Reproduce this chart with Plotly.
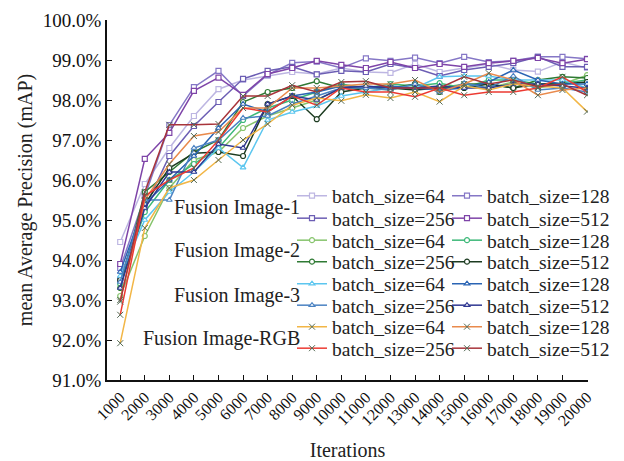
import plotly.graph_objects as go

iterations = [1000, 2000, 3000, 4000, 5000, 6000, 7000, 8000, 9000, 10000,
              11000, 12000, 13000, 14000, 15000, 16000, 17000, 18000, 19000, 20000]
tick_labels = [str(v) for v in iterations]
y_ticks = [91, 92, 93, 94, 95, 96, 97, 98, 99, 100]

group_names = ["Fusion Image-1", "Fusion Image-2", "Fusion Image-3", "Fusion Image-RGB"]
batch_sizes = [64, 128, 256, 512]

# Fusion Image-1
f1_64 = [94.45, 95.9, 96.8, 97.6, 98.27, 98.5, 98.6, 98.7, 98.65, 98.8, 98.7, 98.68, 98.9, 98.7, 98.8, 98.9, 98.75, 98.71, 98.95, 98.8]
f1_128 = [93.8, 95.6, 97.37, 98.32, 98.73, 98.1, 98.63, 98.93, 98.96, 98.8, 99.04, 98.98, 99.06, 98.92, 99.08, 98.95, 98.98, 99.08, 99.08, 99.03]
f1_256 = [93.5, 95.3, 96.6, 97.35, 97.95, 98.53, 98.73, 98.83, 98.64, 98.73, 98.7, 98.9, 98.8, 98.6, 98.75, 98.83, 98.92, 99.08, 98.83, 98.83]
f1_512 = [93.9, 96.53, 97.18, 98.23, 98.56, 98.13, 98.65, 98.8, 98.98, 98.88, 98.8, 98.95, 98.8, 98.9, 98.83, 98.92, 98.98, 99.05, 98.92, 99.02]
# Fusion Image-2
f2_64 = [93.1, 94.6, 95.8, 96.5, 96.7, 97.3, 97.6, 97.8, 98.0, 98.3, 98.3, 98.25, 98.4, 98.3, 98.4, 98.3, 98.45, 98.3, 98.4, 98.62]
f2_128 = [93.4, 95.2, 96.0, 96.4, 96.8, 97.5, 97.8, 98.0, 98.2, 98.4, 98.3, 98.4, 98.35, 98.42, 98.3, 98.5, 98.5, 98.4, 98.42, 98.5]
f2_256 = [93.3, 95.7, 96.2, 96.7, 97.0, 97.95, 98.2, 98.3, 98.47, 98.3, 98.3, 98.3, 98.4, 98.2, 98.4, 98.4, 98.3, 98.5, 98.58, 98.55]
f2_512 = [93.5, 95.4, 96.3, 96.67, 96.7, 96.6, 97.9, 98.1, 97.52, 98.2, 98.3, 98.3, 98.25, 98.3, 98.3, 98.4, 98.3, 98.4, 98.4, 98.45]
# Fusion Image-3
f3_64 = [93.6, 95.0, 95.7, 96.2, 96.8, 96.31, 97.5, 97.7, 97.85, 98.1, 98.2, 98.3, 98.3, 98.58, 98.6, 98.6, 98.5, 98.5, 98.5, 98.3]
f3_128 = [93.7, 95.4, 96.0, 96.6, 97.3, 97.9, 97.7, 98.1, 98.2, 98.35, 98.3, 98.35, 98.3, 98.25, 98.3, 98.45, 98.75, 98.5, 98.4, 98.4]
f3_256 = [93.45, 95.5, 95.5, 96.8, 97.0, 97.55, 97.6, 97.9, 98.1, 98.3, 98.3, 98.25, 98.4, 98.2, 98.42, 98.3, 98.6, 98.25, 98.3, 98.2]
f3_512 = [93.3, 95.3, 96.2, 96.2, 96.9, 96.8, 97.9, 98.1, 98.0, 98.3, 98.35, 98.3, 98.3, 98.35, 98.3, 98.3, 98.4, 98.4, 98.35, 98.3]
# Fusion Image-RGB
rgb_64 = [91.92, 94.8, 95.8, 96.0, 96.5, 97.0, 97.4, 97.87, 98.05, 97.98, 98.13, 98.05, 98.2, 97.96, 98.35, 98.25, 98.4, 98.35, 98.3, 97.71]
rgb_128 = [93.0, 95.5, 96.4, 97.1, 97.2, 97.8, 97.8, 98.3, 98.3, 98.35, 98.4, 98.4, 98.5, 98.2, 98.4, 98.67, 98.5, 98.12, 98.25, 98.3]
rgb_256 = [92.63, 95.6, 96.0, 96.3, 97.0, 97.8, 97.7, 98.1, 97.87, 98.3, 98.2, 98.2, 98.08, 98.3, 98.12, 98.2, 98.2, 98.3, 98.58, 98.2]
rgb_512 = [92.96, 95.7, 97.38, 97.38, 97.4, 98.1, 98.1, 98.37, 98.2, 98.45, 98.47, 98.3, 98.3, 98.3, 98.58, 98.4, 98.5, 98.33, 98.4, 98.12]

series = {
    ("Fusion Image-1", 64): f1_64, ("Fusion Image-1", 128): f1_128,
    ("Fusion Image-1", 256): f1_256, ("Fusion Image-1", 512): f1_512,
    ("Fusion Image-2", 64): f2_64, ("Fusion Image-2", 128): f2_128,
    ("Fusion Image-2", 256): f2_256, ("Fusion Image-2", 512): f2_512,
    ("Fusion Image-3", 64): f3_64, ("Fusion Image-3", 128): f3_128,
    ("Fusion Image-3", 256): f3_256, ("Fusion Image-3", 512): f3_512,
    ("Fusion Image-RGB", 64): rgb_64, ("Fusion Image-RGB", 128): rgb_128,
    ("Fusion Image-RGB", 256): rgb_256, ("Fusion Image-RGB", 512): rgb_512,
}

colors = {
    ("Fusion Image-1", 64): "#bdb6e2", ("Fusion Image-1", 128): "#8577c6",
    ("Fusion Image-1", 256): "#6c5eb4", ("Fusion Image-1", 512): "#7e44a8",
    ("Fusion Image-2", 64): "#86c46c", ("Fusion Image-2", 128): "#3cb878",
    ("Fusion Image-2", 256): "#2f7a34", ("Fusion Image-2", 512): "#1c3b20",
    ("Fusion Image-3", 64): "#5cc6ef", ("Fusion Image-3", 128): "#2a64b4",
    ("Fusion Image-3", 256): "#4a82c2", ("Fusion Image-3", 512): "#2f3791",
    ("Fusion Image-RGB", 64): "#f2b646", ("Fusion Image-RGB", 128): "#e98a4c",
    ("Fusion Image-RGB", 256): "#ec3a32", ("Fusion Image-RGB", 512): "#a8343a",
}
symbols = {"Fusion Image-1": "square", "Fusion Image-2": "circle",
           "Fusion Image-3": "triangle-up", "Fusion Image-RGB": "x-thin-open"}

FONT = "Liberation Serif, Times New Roman, serif"
W, H = 624, 461
ML, MR, MT, MB = 107, 36, 20, 81
PW, PH = W - ML - MR, H - MT - MB


def px_x(px):
    return (px - ML) / PW


def px_y(py):
    return (H - MB - py) / PH


row_centers = [196, 218.5, 240.5, 262, 284, 305.5, 327, 348.5]

fig = go.Figure()
row = 0
for g in group_names:
    for pair in [(64, 128), (256, 512)]:
        leg = "legend" if row == 0 else f"legend{row + 1}"
        for col, b in enumerate(pair):
            key = (g, b)
            sym = symbols[g]
            if sym == "x-thin-open":
                marker = dict(symbol=sym, size=6, color="#556b55", line=dict(width=1, color="#556b55"))
            else:
                marker = dict(symbol=sym, size=5, color="white", line=dict(width=1.2, color=colors[key]))
            fig.add_trace(go.Scatter(
                x=iterations, y=series[key], mode="lines+markers",
                name=f"batch_size={b}", legend=leg,
                legendwidth=110 if col == 0 else 130,
                line=dict(color=colors[key], width=1.5), marker=marker,
            ))
        row += 1

legend_layout = {}
for i, yc in enumerate(row_centers):
    name = "legend" if i == 0 else f"legend{i + 1}"
    legend_layout[name] = dict(
        orientation="h", xref="paper", yref="paper",
        x=px_x(292), y=px_y(yc), xanchor="left", yanchor="middle",
        entrywidthmode="pixels",
        bgcolor="rgba(0,0,0,0)", font=dict(family=FONT, size=19.5, color="#222"),
        itemwidth=30, tracegroupgap=0,
    )

group_label_y = [207.5, 251, 295, 338]
annotations = []
for g, yc in zip(group_names, group_label_y):
    annotations.append(dict(
        text=g, xref="paper", yref="paper",
        x=px_x(302), y=px_y(yc),
        xanchor="right", yanchor="middle", showarrow=False,
        font=dict(family=FONT, size=20, color="#222"),
    ))

fig.update_layout(
    width=W, height=H, paper_bgcolor="white", plot_bgcolor="white",
    margin=dict(l=ML, r=MR, t=MT, b=MB, autoexpand=False),
    showlegend=True, annotations=annotations,
    font=dict(family=FONT, color="#222"),
    **legend_layout,
)
fig.update_xaxes(
    range=[462, 20040], tickmode="array", tickvals=iterations, ticktext=tick_labels,
    tickangle=-45, tickfont=dict(family=FONT, size=16, color="#111"),
    ticks="inside", ticklen=5, tickcolor="#111", showline=True, linecolor="#111",
    linewidth=1.5, showgrid=False, zeroline=False, automargin=False,
    title=dict(text="Iterations", font=dict(family=FONT, size=20, color="#222"), standoff=18),
)
fig.update_yaxes(
    range=[91, 100], tickmode="array", tickvals=y_ticks,
    ticktext=[f"{v:.1f}%" for v in y_ticks],
    tickfont=dict(family=FONT, size=19, color="#111"),
    ticks="inside", ticklen=5, tickcolor="#111", showline=True, linecolor="#111",
    linewidth=1.5, showgrid=False, zeroline=False, automargin=False,
    title=dict(text="mean Average Precision (mAP)", font=dict(family=FONT, size=20, color="#222"), standoff=5),
)

fig.write_html("out.html", config={"displayModeBar": False},
               post_script="document.body.style.margin='0';")
